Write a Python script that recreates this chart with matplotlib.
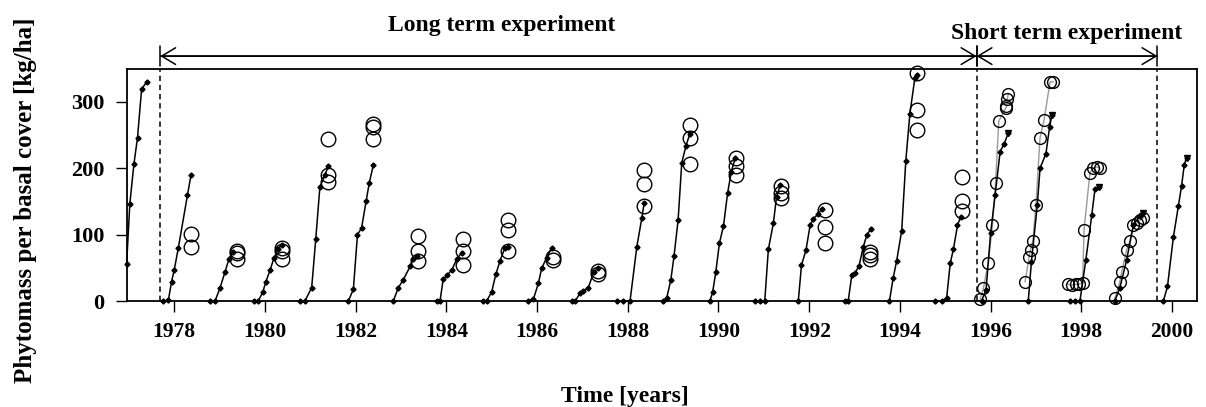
import matplotlib
matplotlib.use('Agg')
import matplotlib.pyplot as plt

# ---------------- data ----------------
# Long-term experiment: simulated growth curves (black line, small diamonds), one list per season
lt_line_years = [
    [1976.95, 1977.02, 1977.11, 1977.19, 1977.28, 1977.39],
    [1977.76, 1977.87, 1977.94, 1978.00, 1978.09, 1978.29, 1978.37],
    [1978.79, 1978.90, 1979.01, 1979.12, 1979.21, 1979.30],
    [1979.76, 1979.85, 1979.95, 1980.02, 1980.11, 1980.20, 1980.29, 1980.37],
    [1980.77, 1980.88, 1981.03, 1981.12, 1981.21, 1981.32, 1981.40],
    [1981.84, 1981.95, 1982.04, 1982.13, 1982.23, 1982.30, 1982.39],
    [1982.83, 1982.94, 1983.05, 1983.20, 1983.27, 1983.35],
    [1983.79, 1983.86, 1983.93, 1984.02, 1984.12, 1984.23, 1984.34],
    [1984.81, 1984.89, 1985.00, 1985.09, 1985.18, 1985.29, 1985.36],
    [1985.81, 1985.92, 1986.03, 1986.10, 1986.21, 1986.32],
    [1986.76, 1986.84, 1986.95, 1987.02, 1987.13, 1987.25, 1987.35],
    [1987.76, 1987.90, 1988.05, 1988.20, 1988.31, 1988.36],
    [1988.78, 1988.86, 1988.95, 1989.02, 1989.11, 1989.19, 1989.28, 1989.37],
    [1989.81, 1989.87, 1989.94, 1990.02, 1990.11, 1990.20, 1990.28, 1990.37],
    [1990.80, 1990.91, 1991.02, 1991.10, 1991.21, 1991.28, 1991.36],
    [1991.76, 1991.83, 1991.93, 1992.02, 1992.09, 1992.20, 1992.28],
    [1992.79, 1992.86, 1992.94, 1993.01, 1993.10, 1993.19, 1993.27, 1993.36],
    [1993.77, 1993.85, 1993.93, 1994.04, 1994.13, 1994.22, 1994.33, 1994.37],
    [1994.77, 1994.92, 1995.03, 1995.11, 1995.18, 1995.27, 1995.34],
]
lt_line_values = [
    [56, 146, 206, 246, 319, 330],
    [0, 1, 29, 47, 80, 159, 190],
    [0, 0, 20, 44, 64, 74],
    [0, 0, 13, 29, 46, 65, 78, 85],
    [0, 0, 20, 93, 171, 190, 203],
    [0, 18, 100, 110, 150, 178, 205],
    [0, 20, 32, 52, 63, 68],
    [0, 0, 33, 39, 47, 63, 73],
    [0, 0, 14, 40, 60, 80, 82],
    [0, 3, 27, 49, 65, 80],
    [0, 0, 12, 15, 20, 44, 49],
    [0, 0, 0, 82, 125, 147],
    [0, 5, 32, 68, 122, 208, 233, 252],
    [0, 13, 43, 87, 113, 162, 194, 216],
    [0, 0, 0, 78, 117, 157, 174],
    [0, 54, 77, 114, 124, 131, 139],
    [0, 0, 39, 42, 53, 81, 99, 109],
    [0, 34, 61, 106, 211, 282, 336, 341],
    [0, 0, 4, 57, 78, 114, 127],
]
# Long-term experiment: measured values (open circles) at the end of each season
lt_obs_years = [1978.37, 1979.38, 1980.37, 1981.39, 1982.39, 1983.38, 1984.37, 1985.36,
                1986.36, 1987.35, 1988.36, 1989.37, 1990.39, 1991.38, 1992.35, 1993.34,
                1994.37, 1995.36]
lt_obs_values = [
    [101, 82], [75, 64, 72], [75, 63, 80], [244, 190, 180], [267, 262, 244],
    [98, 76, 61], [94, 75, 54], [122, 107, 76], [67, 62], [45, 40],
    [197, 176, 143], [265, 245, 206], [216, 203, 190], [173, 163, 155],
    [137, 111, 88], [74, 69, 64], [344, 288, 257], [187, 151, 135],
]

# Short-term experiment: simulated curves
st_line_years = [
    [1995.80, 1995.90, 1996.00, 1996.10, 1996.21, 1996.30, 1996.39],
    [1996.83, 1996.90, 1997.03, 1997.09, 1997.22, 1997.30, 1997.35],
    [1997.75, 1997.86, 1997.97, 1998.10, 1998.23, 1998.30, 1998.40],
    [1998.74, 1998.85, 1999.00, 1999.15, 1999.29, 1999.37],
    [1999.81, 1999.90, 2000.03, 2000.14, 2000.21, 2000.27, 2000.32],
]
st_line_values = [
    [0, 17, 102, 160, 225, 237, 253],
    [0, 59, 145, 200, 222, 262, 280],
    [0, 0, 0, 62, 129, 168, 171],
    [0, 20, 62, 115, 128, 133],
    [0, 22, 96, 143, 173, 205, 216],
]
# Short-term experiment: measured values (open circles joined by a grey line)
st_obs_years = [
    [1995.77, 1995.84, 1995.95, 1996.04, 1996.11, 1996.18, 1996.33, 1996.35, 1996.37, 1996.39],
    [1996.76, 1996.85, 1996.88, 1996.93, 1997.00, 1997.09, 1997.18, 1997.31, 1997.38],
    [1997.71, 1997.80, 1997.88, 1997.96, 1998.03, 1998.06, 1998.19, 1998.26, 1998.35, 1998.41],
    [1998.74, 1998.85, 1998.89, 1999.00, 1999.07, 1999.15, 1999.22, 1999.29, 1999.37],
]
st_obs_values = [
    [3, 19, 58, 114, 178, 271, 290, 293, 305, 312],
    [29, 67, 77, 90, 145, 246, 273, 330, 330],
    [25, 24, 25, 26, 27, 107, 193, 200, 202, 200],
    [4, 29, 44, 77, 90, 115, 117, 122, 125],
]

period_bounds = [1977.69, 1995.69, 1999.68]
period_labels = ['Long term experiment', 'Short term experiment']
xticks = list(range(1978, 2001, 2))
yticks = [0, 100, 200, 300]
xlabel = 'Time [years]'
ylabel = 'Phytomass per basal cover [kg/ha]'

# ---------------- plot ----------------
plt.rcParams['font.family'] = ['Liberation Serif', 'DejaVu Serif']
plt.rcParams['font.weight'] = 'bold'

W, H = 1206, 407
fig = plt.figure(figsize=(W / 100, H / 100), dpi=100)
ax = fig.add_axes([0.105, 0.2604, 0.8875, 0.5693])

for t, v in zip(lt_line_years, lt_line_values):
    ax.plot(t, v, color='black', lw=1.1, marker='D', ms=2.6, clip_on=False, zorder=3)

for t, vals in zip(lt_obs_years, lt_obs_values):
    ax.plot([t] * len(vals), vals, linestyle='none', marker='o', ms=10.5,
            mfc='none', mec='black', mew=1.0, clip_on=False, zorder=4)

for t, v in zip(st_obs_years, st_obs_values):
    ax.plot(t, v, color='#9a9a9a', lw=1.0, marker='o', ms=8.5,
            mfc='none', mec='black', mew=1.0, clip_on=False, zorder=4)

for t, v in zip(st_line_years, st_line_values):
    ax.plot(t, v, color='black', lw=1.1, marker='D', ms=2.6, clip_on=False, zorder=5)
    ax.plot(t[-1:], v[-1:], linestyle='none', marker='v', ms=5, color='black',
            clip_on=False, zorder=5)

for xb in period_bounds:
    ax.axvline(xb, color='black', lw=1.1, ls=(0, (3.5, 2.5)), zorder=2)

ax.set_xlim(1976.95, 2000.55)
ax.set_ylim(0, 349)
ax.set_xticks(xticks)
ax.set_yticks(yticks)
ax.tick_params(axis='x', direction='out', length=8, width=1.0, pad=7, labelsize=15.5)
ax.tick_params(axis='y', direction='out', length=8, width=1.0, pad=8, labelsize=16)
for lab in ax.get_xticklabels() + ax.get_yticklabels():
    lab.set_fontweight('bold')
for s in ax.spines.values():
    s.set_linewidth(1.3)

ax.set_xlabel(xlabel, fontsize=17, fontweight='bold')
ax.xaxis.set_label_coords(0.4656, -0.367)
ax.set_ylabel(ylabel, fontsize=18, fontweight='bold')
ax.yaxis.set_label_coords(-0.0835, 0.436)

# period arrows
ya = 1.057
for x0, x1 in [(period_bounds[0], period_bounds[1]), (period_bounds[1], period_bounds[2])]:
    ax.annotate('', xy=(x0, ya), xytext=(x1, ya), xycoords=('data', 'axes fraction'),
                textcoords=('data', 'axes fraction'),
                arrowprops=dict(arrowstyle='<->, head_length=0.5, head_width=0.3',
                                color='black', lw=1.1, mutation_scale=20,
                                shrinkA=0, shrinkB=0), annotation_clip=False)
    ax.annotate('', xy=(x0, ya), xytext=(x1, ya), xycoords=('data', 'axes fraction'),
                textcoords=('data', 'axes fraction'),
                arrowprops=dict(arrowstyle='|-|, widthA=0.35, widthB=0.35',
                                color='black', lw=1.1, mutation_scale=20,
                                shrinkA=0, shrinkB=0), annotation_clip=False)

fig.text(502 / W, 1 - 26 / H, period_labels[0], ha='center', va='center',
         fontsize=17, fontweight='bold')
fig.text(1067 / W, 1 - 34 / H, period_labels[1], ha='center', va='center',
         fontsize=17, fontweight='bold')

fig.savefig('out.png', dpi=100)
